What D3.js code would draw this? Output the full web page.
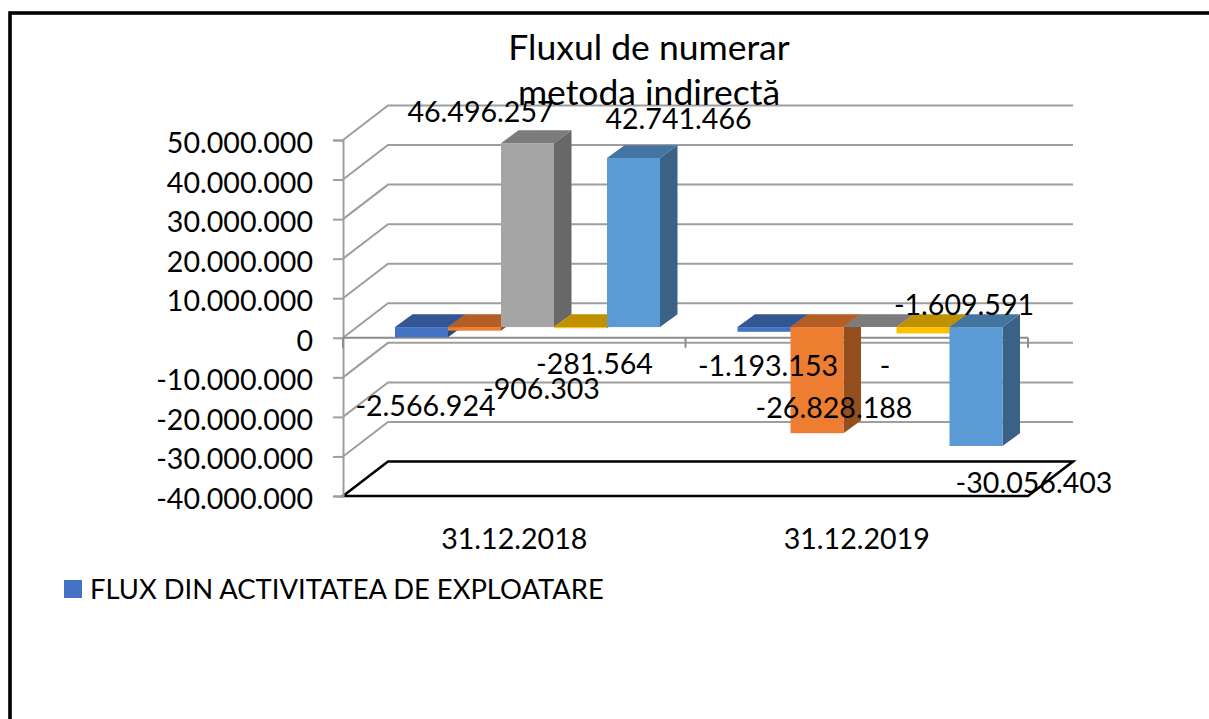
<!DOCTYPE html>
<html lang="en">
<head>
    <meta charset="utf-8">
    <title>Fluxul de numerar</title>
    <script src="https://d3js.org/d3.v7.min.js"></script>
    <style type="text/css">
        html, body { margin: 0; padding: 0; background: #fff; overflow: hidden; }
        text { font-family: Lato, "Noto Sans", sans-serif; fill: #000; }
    </style>
</head>
<body>
<script type="text/javascript">

    // Data
    var categories = ["31.12.2018", "31.12.2019"];
    var series_ids = ["s1", "s2", "s3", "s4", "s5"];
    var series_colors = ["#4472c4", "#ed7d31", "#a5a5a5", "#ffc000", "#5b9bd5"];
    var s1_values = [-2566924, -1193153];
    var s2_values = [-906303, -26828188];
    var s3_values = [46496257, 0];
    var s4_values = [-281564, -1609591];
    var s5_values = [42741466, -30056403];
    var y_ticks = [50000000, 40000000, 30000000, 20000000, 10000000, 0, -10000000, -20000000, -30000000, -40000000];
    var title_lines = ["Fluxul de numerar", "metoda indirectă"];
    var legend_label = "FLUX DIN ACTIVITATEA DE EXPLOATARE";

    var all_values = [s1_values, s2_values, s3_values, s4_values, s5_values];

    // Data labels sit where the source chart left them, so offsets from the bar end
    var label_offsets = [
        [[4, 78.5], [4, 44]],
        [[67, 68], [17, -15]],
        [[-47, -21], [15, 49]],
        [[14, 45.5], [41, -18.5]],
        [[45, -29], [58, 47]]
    ];

    //Width and height
    var w = 1209;
    var h = 719;
    var font_size = 28.6;
    var grid_color = "#9e9e9e";

    // Wall depth of the fake 3D box
    var wall_dx = 45;
    var wall_dy = 34.5;
    // Bars stand part way into the box, and have their own depth
    var bar_shift_x = 13;
    var bar_shift_y = 10.7;
    var bar_dx = 17.5;
    var bar_dy = 12.8;

    var y_scale = d3.scaleLinear()
        .domain([-40000000, 50000000])
        .range([496, 140]);

    var x_scale = d3.scaleBand()
        .domain(categories)
        .range([343, 1028]);

    var bar_scale = d3.scaleBand()
        .domain(series_ids)
        .range([39, 304]);

    var locale = d3.formatLocale({ decimal: ",", thousands: ".", grouping: [3], currency: ["", ""], minus: "-" });
    var number_format = locale.format(",d");

    function label_text(v) {
        return v === 0 ? "-" : number_format(v);
    }

    function shade(color, k) {
        var c = d3.rgb(color);
        return d3.rgb(c.r * k, c.g * k, c.b * k).formatHex();
    }

    function polygon(points) {
        return points.map(function (p) { return p.join(","); }).join(" ");
    }

    var svg = d3.select("body")
        .append("svg")
        .attr("width", w)
        .attr("height", h)
        .style("display", "block");

    // Outer frame runs off the right and bottom of the page
    svg.append("rect")
        .attr("x", 10)
        .attr("y", 13)
        .attr("width", w + 20)
        .attr("height", h + 20)
        .attr("fill", "none")
        .attr("stroke", "#000")
        .attr("stroke-width", 3.6);

    // Walls
    var x_left = x_scale.range()[0];
    var x_right = x_scale.range()[1];
    var grid = svg.append("g")
        .attr("fill", "none")
        .attr("stroke", grid_color)
        .attr("stroke-width", 2);

    grid.selectAll("polyline")
        .data(y_ticks.slice(0, -1))
        .enter()
        .append("polyline")
        .attr("points", function (d) {
            return polygon([
                [x_left, y_scale(d)],
                [x_left + wall_dx, y_scale(d) - wall_dy],
                [x_right + wall_dx, y_scale(d) - wall_dy]
            ]);
        });

    // Floor
    var y_floor = y_scale(y_ticks[y_ticks.length - 1]);
    svg.append("polygon")
        .attr("points", polygon([
            [x_left, y_floor],
            [x_left + wall_dx, y_floor - wall_dy],
            [x_right + wall_dx, y_floor - wall_dy],
            [x_right, y_floor]
        ]))
        .attr("fill", "none")
        .attr("stroke", "#000")
        .attr("stroke-width", 2.6);

    // Value axis
    var y_axis = d3.axisLeft(y_scale)
        .tickValues(y_ticks)
        .tickFormat(number_format)
        .tickSize(10)
        .tickPadding(20);

    var y_group = svg.append("g")
        .attr("transform", "translate(" + x_left + ",0)")
        .call(y_axis);
    y_group.selectAll("line, path").attr("stroke", grid_color).attr("stroke-width", 2);
    y_group.selectAll("text")
        .attr("dy", 12.5)
        .style("font-size", font_size + "px")
        .style("font-family", "Lato");

    // Category axis line with ticks on the band edges
    var y_zero = y_scale(0);
    var cat_axis = svg.append("g")
        .attr("stroke", "#8c8c8c")
        .attr("stroke-width", 2);
    cat_axis.append("line")
        .attr("x1", x_left)
        .attr("x2", x_right)
        .attr("y1", y_zero)
        .attr("y2", y_zero);
    cat_axis.selectAll("line.tick")
        .data([x_left].concat(categories.map(function (c) { return x_scale(c) + x_scale.bandwidth(); })))
        .enter()
        .append("line")
        .attr("class", "tick")
        .attr("x1", function (d) { return d; })
        .attr("x2", function (d) { return d; })
        .attr("y1", y_zero)
        .attr("y2", y_zero + 10);

    // Bars, left to right so each one covers the side of the one before
    var bars = [];
    categories.forEach(function (cat, c) {
        series_ids.forEach(function (id, s) {
            bars.push({ cat: cat, c: c, id: id, s: s, value: all_values[s][c], color: series_colors[s] });
        });
    });

    function bar_x0(d) { return x_scale(d.cat) + bar_shift_x + bar_scale(d.id); }
    function bar_x1(d) { return bar_x0(d) + bar_scale.bandwidth(); }
    function bar_top(d) { return y_scale(Math.max(d.value, 0)) - bar_shift_y; }
    function bar_bottom(d) { return y_scale(Math.min(d.value, 0)) - bar_shift_y; }

    var bar_groups = svg.selectAll("g.bar")
        .data(bars)
        .enter()
        .append("g")
        .attr("class", "bar");

    bar_groups.append("polygon")
        .attr("fill", function (d) { return shade(d.color, 0.75); })
        .attr("points", function (d) {
            return polygon([
                [bar_x0(d), bar_top(d)],
                [bar_x0(d) + bar_dx, bar_top(d) - bar_dy],
                [bar_x1(d) + bar_dx, bar_top(d) - bar_dy],
                [bar_x1(d), bar_top(d)]
            ]);
        });

    bar_groups.append("polygon")
        .attr("fill", function (d) { return shade(d.color, 0.63); })
        .attr("points", function (d) {
            return polygon([
                [bar_x1(d), bar_top(d)],
                [bar_x1(d) + bar_dx, bar_top(d) - bar_dy],
                [bar_x1(d) + bar_dx, bar_bottom(d) - bar_dy],
                [bar_x1(d), bar_bottom(d)]
            ]);
        });

    bar_groups.append("rect")
        .attr("fill", function (d) { return d.color; })
        .attr("x", bar_x0)
        .attr("y", bar_top)
        .attr("width", bar_scale.bandwidth())
        .attr("height", function (d) { return bar_bottom(d) - bar_top(d); });

    // Category labels
    svg.selectAll("text.cat")
        .data(categories)
        .enter()
        .append("text")
        .attr("class", "cat")
        .attr("x", function (d) { return x_scale(d) + x_scale.bandwidth() / 2; })
        .attr("y", 549)
        .attr("text-anchor", "middle")
        .style("font-size", font_size + "px")
        .text(function (d) { return d; });

    // Data labels
    svg.selectAll("text.value")
        .data(bars)
        .enter()
        .append("text")
        .attr("class", "value")
        .attr("x", function (d) {
            return (bar_x0(d) + bar_x1(d)) / 2 + label_offsets[d.s][d.c][0];
        })
        .attr("y", function (d) {
            var end = d.value < 0 ? bar_bottom(d) : bar_top(d);
            return end + label_offsets[d.s][d.c][1];
        })
        .attr("text-anchor", "middle")
        .style("font-size", font_size + "px")
        .text(function (d) { return label_text(d.value); });

    // Title
    svg.selectAll("text.title")
        .data(title_lines)
        .enter()
        .append("text")
        .attr("class", "title")
        .attr("x", 649)
        .attr("y", function (d, i) { return 60 + i * 45; })
        .attr("text-anchor", "middle")
        .style("font-size", "35.5px")
        .text(function (d) { return d; });

    // Legend, only the first series is shown
    svg.append("rect")
        .attr("x", 64)
        .attr("y", 580)
        .attr("width", 18)
        .attr("height", 18)
        .attr("fill", series_colors[0]);

    svg.append("text")
        .attr("x", 90)
        .attr("y", 599)
        .style("font-size", "27.4px")
        .text(legend_label);

</script>
</body>
</html>
